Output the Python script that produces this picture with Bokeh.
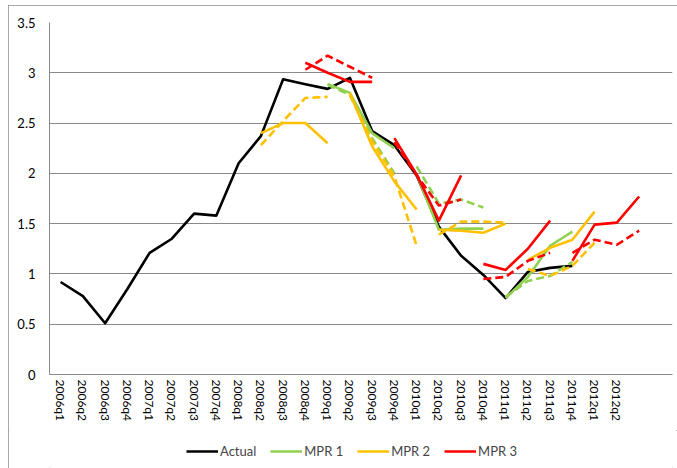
from bokeh.plotting import figure
from bokeh.layouts import column
from bokeh.models import Range1d, FixedTicker, CustomJSTickFormatter, Legend, LegendItem
from bokeh.embed import file_html
from bokeh.resources import INLINE

# ---- data ----
periods = ["2006q1", "2006q2", "2006q3", "2006q4", "2007q1", "2007q2", "2007q3", "2007q4",
           "2008q1", "2008q2", "2008q3", "2008q4", "2009q1", "2009q2", "2009q3", "2009q4",
           "2010q1", "2010q2", "2010q3", "2010q4", "2011q1", "2011q2", "2011q3", "2011q4",
           "2012q1", "2012q2", "2012q3", "2012q4"]
tick_labels = periods[:26]

actual = [0.92, 0.78, 0.51, 0.85, 1.21, 1.35, 1.60, 1.58, 2.10, 2.37, 2.935, 2.885,
          2.84, 2.95, 2.42, 2.28, 1.98, 1.47, 1.18, 0.99, 0.76, 1.02, 1.06, 1.08]

mpr1_solid = {"2009q1": [2.89, 2.80, 2.40, 2.25],
              "2010q1": [1.99, 1.44, 1.45, 1.45],
              "2011q1": [0.76, 0.97, 1.28, 1.42]}
mpr1_dashed = {"2009q1": [2.88, 2.78, 2.35, 2.00],
               "2010q1": [2.07, 1.70, 1.74, 1.66],
               "2011q1": [0.77, 0.93, 0.98, 1.12]}

mpr2_solid = {"2008q2": [2.40, 2.50, 2.50, 2.30],
              "2009q2": [2.80, 2.27, 1.92, 1.64],
              "2010q2": [1.44, 1.43, 1.41, 1.50],
              "2011q2": [1.14, 1.26, 1.34, 1.62]}
mpr2_dashed = {"2008q2": [2.28, 2.52, 2.75, 2.76],
               "2009q2": [2.78, 2.32, 1.97, 1.28],
               "2010q2": [1.39, 1.52, 1.52, 1.51],
               "2011q2": [1.05, 0.98, 1.08, 1.31]}

mpr3_solid = {"2008q4": [3.10, 3.00, 2.91, 2.91],
              "2009q4": [2.35, 1.99, 1.53, 1.98],
              "2010q4": [1.10, 1.04, 1.25, 1.53],
              "2011q4": [1.13, 1.49, 1.51, 1.77]}
mpr3_dashed = {"2008q4": [3.03, 3.17, 3.06, 2.95],
               "2009q4": [2.31, 1.98, 1.68, 1.74],
               "2010q4": [0.95, 0.97, 1.13, 1.21],
               "2011q4": [1.21, 1.34, 1.29, 1.43]}

series_names = ["Actual", "MPR 1", "MPR 2", "MPR 3"]
y_ticks = [0, 0.5, 1, 1.5, 2, 2.5, 3, 3.5]

# ---- styles ----
BLACK, GREEN, ORANGE, RED = "#000000", "#92D050", "#FFC000", "#FF0000"
COLORS = [BLACK, GREEN, ORANGE, RED]
GRID = "#8a8a8a"
FONT = "Lato"
LW = 2.6
DASH = "8 4"

p = figure(width=669, height=425, output_backend="svg", toolbar_location=None,
           x_range=Range1d(-0.5, 27.5), y_range=Range1d(0, 3.5),
           min_border_left=41, min_border_right=5, min_border_top=17, min_border_bottom=56)
p.outline_line_color = None
p.background_fill_color = "white"
p.border_fill_color = "white"

p.xgrid.visible = False
p.ygrid.ticker = FixedTicker(ticks=y_ticks)
p.ygrid.grid_line_color = GRID
p.ygrid.grid_line_width = 1

p.yaxis.ticker = FixedTicker(ticks=y_ticks)
p.yaxis.formatter = CustomJSTickFormatter(code="return String(tick);")
p.yaxis.axis_line_color = GRID
p.yaxis.major_tick_line_color = None
p.yaxis.minor_tick_line_color = None
p.yaxis.major_tick_out = 0
p.yaxis.minor_tick_out = 0
p.yaxis.major_label_standoff = 14
p.yaxis.major_label_text_font = FONT
p.yaxis.major_label_text_font_size = "13px"
p.yaxis.major_label_text_color = "#000000"

p.xaxis.ticker = FixedTicker(ticks=list(range(len(tick_labels))))
p.xaxis.major_label_overrides = {i: lab for i, lab in enumerate(tick_labels)}
p.xaxis.major_label_orientation = "vertical"
p.xaxis.axis_line_color = GRID
p.xaxis.major_tick_line_color = None
p.xaxis.minor_tick_line_color = None
p.xaxis.major_tick_out = 0
p.xaxis.minor_tick_out = 0
p.xaxis.major_label_standoff = 5
p.xaxis.major_label_text_font = FONT
p.xaxis.major_label_text_font_size = "12px"
p.xaxis.major_label_text_color = "#000000"

p.line(list(range(len(actual))), actual, line_color=BLACK, line_width=LW, line_join="round")

for color, solid, dashed in [(GREEN, mpr1_solid, mpr1_dashed),
                             (ORANGE, mpr2_solid, mpr2_dashed),
                             (RED, mpr3_solid, mpr3_dashed)]:
    for start, vals in solid.items():
        i0 = periods.index(start)
        p.line(list(range(i0, i0 + len(vals))), vals, line_color=color, line_width=LW,
               line_join="round")
    for start, vals in dashed.items():
        i0 = periods.index(start)
        p.line(list(range(i0, i0 + len(vals))), vals, line_color=color, line_width=LW,
               line_dash=DASH, line_join="round")

# ---- legend strip below the chart ----
lg = figure(width=669, height=38, output_backend="svg", toolbar_location=None,
            x_range=Range1d(0, 1), y_range=Range1d(0, 1),
            x_axis_type=None, y_axis_type=None, min_border=0)
lg.outline_line_color = None
lg.background_fill_color = "white"
lg.border_fill_color = "white"
lg.grid.visible = False
items = []
for name, color in zip(series_names, COLORS):
    # proxy renderers placed outside the visible range; only their legend swatch shows
    r = lg.line([5, 6], [5, 5], line_color=color, line_width=LW)
    items.append(LegendItem(label=name, renderers=[r]))
legend = Legend(items=items, location=(137, 9), orientation="horizontal",
                glyph_width=32, glyph_height=14, label_standoff=2, spacing=14,
                padding=0, margin=0, border_line_color=None, background_fill_alpha=0,
                label_text_font=FONT, label_text_font_size="13px", label_height=14)
lg.add_layout(legend, "center")

layout = column(p, lg, spacing=0)
layout.styles = {"margin-left": "8px", "margin-top": "5px",
                 "outline": "1px solid #8c8c8c", "outline-offset": "-1px",
                 "background-color": "white"}

open("out.html", "w").write(file_html(layout, INLINE))
